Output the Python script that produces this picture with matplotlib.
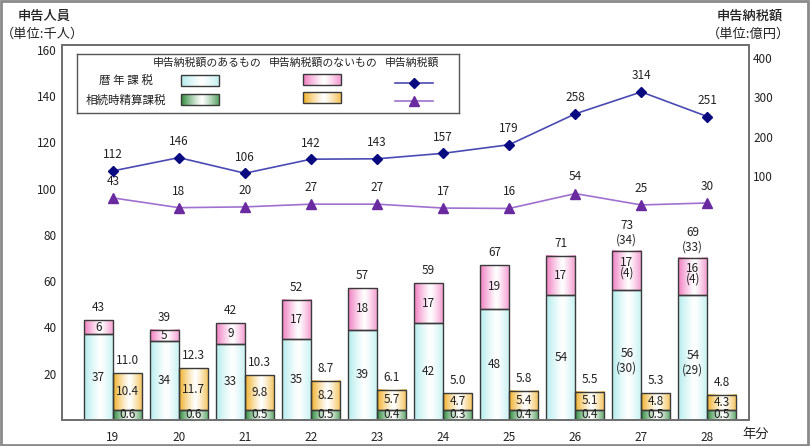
import numpy as np
import matplotlib.pyplot as plt
from matplotlib.colors import to_rgb
from matplotlib.patches import Rectangle
from matplotlib.lines import Line2D

plt.rcParams['font.family'] = ['Noto Sans CJK JP', 'DejaVu Sans']

years = ['19', '20', '21', '22', '23', '24', '25', '26', '27', '28']

# 暦年課税 (thousand people)
reki_tax = [37, 34, 33, 35, 39, 42, 48, 54, 56, 54]
reki_notax = [6, 5, 9, 17, 18, 17, 19, 17, 17, 16]
reki_total = [43, 39, 42, 52, 57, 59, 67, 71, 73, 69]
# bracketed figures shown for 27, 28
reki_tax_par = [None] * 8 + [30, 29]
reki_notax_par = [None] * 8 + [4, 4]
reki_total_par = [None] * 8 + [34, 33]

# 相続時精算課税 (thousand people)
sou_tax = [0.6, 0.6, 0.5, 0.5, 0.4, 0.3, 0.4, 0.4, 0.5, 0.5]
sou_notax = [10.4, 11.7, 9.8, 8.2, 5.7, 4.7, 5.4, 5.1, 4.8, 4.3]
sou_total = [11.0, 12.3, 10.3, 8.7, 6.1, 5.0, 5.8, 5.5, 5.3, 4.8]

# 申告納税額 (100 million yen)
reki_amount = [112, 146, 106, 142, 143, 157, 179, 258, 314, 251]
sou_amount = [43, 18, 20, 27, 27, 17, 16, 54, 25, 30]

# the small bars are not to scale in the original picture
GREEN_H = 4.4
YELLOW_K = 1.53

W, H = 810, 446
fig = plt.figure(figsize=(W / 100, H / 100), dpi=100)


def fx(px):
    return px / W


def fy(py):
    return 1 - py / H


ax = fig.add_axes([fx(62), fy(420), fx(749) - fx(62), fy(45) - fy(420)])
ax2 = ax.twinx()

x = np.arange(len(years))
bw = 0.44


def gradient(edge):
    t = np.linspace(0, 1, 80)
    w = np.clip(np.abs(t - 0.55) / 0.55, 0, 1) ** 1.2
    e = np.array(to_rgb(edge))
    img = (1 - w)[:, None] * np.ones(3) + w[:, None] * e
    return img[None, :, :]


def fill_bars(axis, bars, edge):
    img = gradient(edge)
    for r in bars:
        x0, y0 = r.get_x(), r.get_y()
        axis.imshow(img, extent=[x0, x0 + r.get_width(), y0, y0 + r.get_height()],
                    aspect='auto', interpolation='bilinear', zorder=1)


ec = '#3a3a3a'
b_cyan = ax.bar(x - bw / 2, reki_tax, bw, facecolor='none', edgecolor=ec, lw=1, zorder=2)
b_pink = ax.bar(x - bw / 2, reki_notax, bw, bottom=reki_tax, facecolor='none', edgecolor=ec, lw=1, zorder=2)
green_h = [GREEN_H] * len(sou_tax)
yellow_h = [v * YELLOW_K for v in sou_notax]
b_green = ax.bar(x + bw / 2, green_h, bw, facecolor='none', edgecolor=ec, lw=1, zorder=2)
b_yellow = ax.bar(x + bw / 2, yellow_h, bw, bottom=green_h, facecolor='none', edgecolor=ec, lw=1, zorder=2)

fill_bars(ax, b_cyan, '#b4ecec')
fill_bars(ax, b_pink, '#f07cc0')
fill_bars(ax, b_green, '#2f8a3c')
fill_bars(ax, b_yellow, '#f0b028')

fs = 8.5
tc = '#222222'
for i in range(len(years)):
    xl = x[i] - bw / 2
    xr = x[i] + bw / 2
    # cyan
    mid = reki_tax[i] / 2
    if reki_tax_par[i] is None:
        ax.text(xl, mid, str(reki_tax[i]), ha='center', va='center', fontsize=fs, color=tc, zorder=5)
    else:
        ax.annotate('%d\n(%d)' % (reki_tax[i], reki_tax_par[i]), (xl, mid), xytext=(0, 6),
                    textcoords='offset points', ha='center', va='top', fontsize=fs,
                    color=tc, zorder=5, linespacing=1.15)
    # pink
    mid = reki_tax[i] + reki_notax[i] / 2
    if reki_notax_par[i] is None:
        ax.text(xl, mid, str(reki_notax[i]), ha='center', va='center', fontsize=fs, color=tc, zorder=5)
    else:
        ax.annotate('%d\n(%d)' % (reki_notax[i], reki_notax_par[i]), (xl, mid), xytext=(0, 2),
                    textcoords='offset points', ha='center', va='center', fontsize=fs,
                    color=tc, zorder=5, linespacing=0.8)
    # total
    top = reki_tax[i] + reki_notax[i]
    if reki_total_par[i] is None:
        ax.annotate(str(reki_total[i]), (xl, top), xytext=(0, 9), textcoords='offset points',
                    ha='center', va='center', fontsize=fs, color=tc)
    else:
        ax.annotate('%d\n(%d)' % (reki_total[i], reki_total_par[i]), (xl, top), xytext=(0, 3),
                    textcoords='offset points', ha='center', va='bottom', fontsize=fs,
                    color=tc, linespacing=1.15)
    # green / yellow
    ax.text(xr, GREEN_H / 2, '%.1f' % sou_tax[i], ha='center', va='center', fontsize=fs, color=tc, zorder=5)
    ax.text(xr, GREEN_H + yellow_h[i] / 2, '%.1f' % sou_notax[i], ha='center', va='center',
            fontsize=fs, color=tc, zorder=5)
    ax.annotate('%.1f' % sou_total[i], (xr, GREEN_H + yellow_h[i]), xytext=(0, 9),
                textcoords='offset points', ha='center', va='center', fontsize=fs, color=tc)

ax.set_xlim(-0.77, 9.63)
ax.set_ylim(0, 162)
ax.set_yticks(range(20, 161, 20))
ax.set_xticks(x)
ax.set_xticklabels(years)
ax.tick_params(axis='both', length=0, labelsize=fs, colors=tc)
ax.tick_params(axis='x', pad=8)
ax.tick_params(axis='y', pad=4)

# lines on the right axis
ax2.plot(x, reki_amount, color='#4a4ab4', lw=1.2, marker='D', ms=5,
         mfc='#0a0a80', mec='#0a0a80', zorder=4)
ax2.plot(x, sou_amount, color='#a070d0', lw=1.2, marker='^', ms=6.5,
         mfc='#6a2aa0', mec='#6a2aa0', zorder=4)
for i in range(len(years)):
    ax2.annotate(str(reki_amount[i]), (x[i], reki_amount[i]), xytext=(0, 11.5),
                 textcoords='offset points', ha='center', va='center', fontsize=fs, color=tc)
    ax2.annotate(str(sou_amount[i]), (x[i], sou_amount[i]), xytext=(0, 12),
                 textcoords='offset points', ha='center', va='center', fontsize=fs, color=tc)
ax2.set_ylim(-525, 434)
ax2.set_yticks([100, 200, 300, 400])
ax2.tick_params(axis='y', length=0, labelsize=fs, colors=tc, pad=3)

for a in (ax, ax2):
    for s in a.spines.values():
        s.set_color('#707070')
        s.set_linewidth(1.3)

# axis titles
tfs = 9.5
fig.text(fx(44), fy(16), '申告人員', ha='center', va='center', fontsize=tfs, color=tc, weight='medium')
fig.text(fx(42), fy(34), '（単位:千人）', ha='center', va='center', fontsize=tfs, color=tc)
fig.text(fx(750), fy(16), '申告納税額', ha='center', va='center', fontsize=tfs, color=tc, weight='medium')
fig.text(fx(748), fy(34), '（単位:億円）', ha='center', va='center', fontsize=tfs, color=tc)
fig.text(fx(756), fy(434), '年分', ha='center', va='center', fontsize=tfs, color=tc)

# legend box
lx0, ly0, lx1, ly1 = 77, 54, 459, 113
lax = fig.add_axes([fx(lx0), fy(ly1), fx(lx1) - fx(lx0), fy(ly0) - fy(ly1)])
lax.set_xticks([])
lax.set_yticks([])
for s in lax.spines.values():
    s.set_color('#555555')
    s.set_linewidth(1)
lax.patch.set_facecolor('white')

lfs = 7.8
lax.text(207, 63, '申告納税額のあるもの', ha='center', va='center', fontsize=lfs, color=tc)
lax.text(323, 63, '申告納税額のないもの', ha='center', va='center', fontsize=lfs, color=tc)
lax.text(412, 63, '申告納税額', ha='center', va='center', fontsize=lfs, color=tc)
lax.text(126, 80, '暦 年 課 税', ha='center', va='center', fontsize=8.3, color=tc)
lax.text(126, 100, '相続時精算課税', ha='center', va='center', fontsize=8.3, color=tc)

for (sx, sy, col) in [(181, 75, '#b4ecec'), (181, 94, '#2f8a3c'),
                      (303, 74, '#f07cc0'), (303, 92, '#f0b028')]:
    lax.imshow(gradient(col), extent=[sx, sx + 38, sy + 11, sy], aspect='auto',
               interpolation='bilinear', zorder=1)
    lax.add_patch(Rectangle((sx, sy), 38, 11, fill=False, ec=ec, lw=1, zorder=2))
lax.add_line(Line2D([395, 414, 433], [83, 83, 83], color='#4a4ab4', lw=1.2, marker='D', ms=5,
                    mfc='#0a0a80', mec='#0a0a80', markevery=[1]))
lax.add_line(Line2D([395, 414, 433], [101, 101, 101], color='#a070d0', lw=1.2, marker='^', ms=6.5,
                    mfc='#6a2aa0', mec='#6a2aa0', markevery=[1]))
lax.set_xlim(lx0, lx1)
lax.set_ylim(ly1, ly0)

# outer frame
fig.patches.append(Rectangle((0.001, 0.002), 0.997, 0.995, transform=fig.transFigure,
                             fill=False, ec='#8a8a8a', lw=2))

fig.savefig('out.png', dpi=100)
